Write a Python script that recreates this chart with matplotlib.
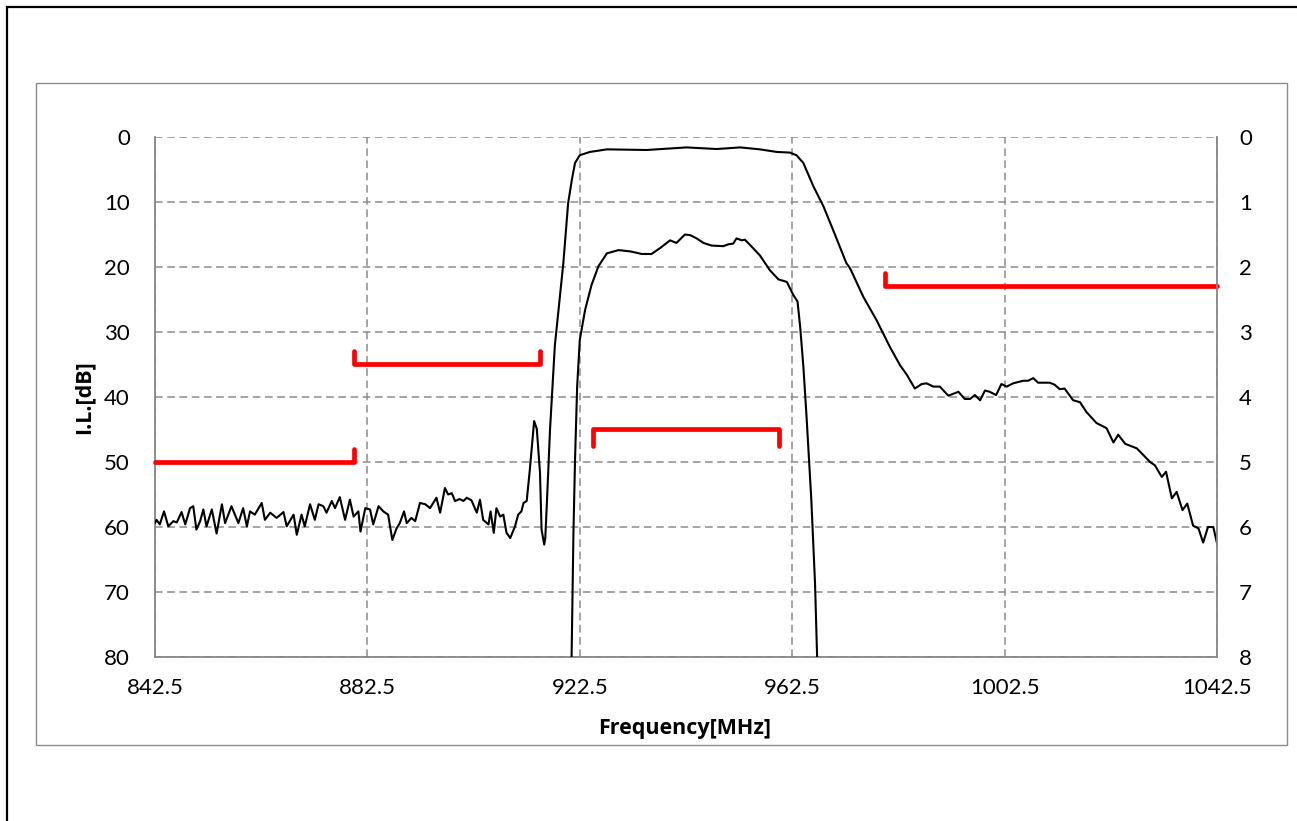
import numpy as np
import matplotlib
matplotlib.use("Agg")
import matplotlib.pyplot as plt
from matplotlib.patches import Rectangle

plt.rcParams["font.family"] = ["Lato", "DejaVu Sans"]

# Wideband response (left axis, dB)
freq_wide = [842.5, 842.8, 843.4, 844.2, 845.0, 845.95, 846.6, 847.5, 848.2, 849.1,
             849.7, 850.3, 851.0, 851.6, 852.2, 853.2, 854.1, 855.1, 855.7, 856.9,
             858.2, 859.1, 859.8, 860.4, 861.3, 862.6, 863.2, 864.2, 865.4, 866.7,
             867.3, 868.6, 869.2, 870.1, 870.7, 871.7, 872.6, 873.3, 874.2, 874.8,
             875.8, 876.4, 877.3, 878.3, 879.2, 879.9, 880.8, 881.2, 882.1, 883.0,
             883.6, 884.6, 885.5, 886.4, 887.2, 888.0, 888.6, 889.4, 889.9, 890.8,
             891.5, 892.4, 893.4, 894.3, 895.5, 896.2, 897.1, 897.7, 898.4, 899.0,
             899.9, 900.6, 901.2, 902.1, 903.1, 903.7, 904.3, 905.3, 905.7, 906.3,
             906.8, 907.5, 908.1, 908.7, 909.4, 910.3, 910.9, 911.5, 911.9, 912.5,
             913.1, 913.9, 914.4, 915.0, 915.3, 915.8, 916.0, 916.3, 916.9, 917.8,
             918.1, 919.4, 920.3, 921.0, 921.6, 922.5, 924.4, 927.6, 935.1, 942.6,
             948.3, 952.7, 956.4, 959.6, 962.1, 963.3, 964.6, 966.5, 968.4, 970.2,
             972.7, 973.4, 975.9, 978.4, 980.9, 982.8, 984.1, 985.6, 986.9, 987.8,
             989.1, 990.3, 991.9, 993.8, 995.0, 996.0, 996.9, 997.9, 998.8, 999.7,
             1000.9, 1001.9, 1002.9, 1004.1, 1006.0, 1006.9, 1007.9, 1008.8, 1011.0, 1011.9,
             1012.9, 1013.8, 1015.4, 1016.7, 1017.9, 1019.8, 1021.7, 1023.0, 1023.9, 1025.2,
             1027.4, 1028.6, 1029.9, 1030.8, 1032.1, 1032.9, 1034.0, 1034.9, 1036.0, 1036.9,
             1038.0, 1039.0, 1039.9, 1040.8, 1041.8, 1042.5]
il_wide = [59.4, 58.9, 59.6, 57.6, 59.9, 59.1, 59.3, 57.7, 59.6, 57.1,
           56.8, 60.4, 59.1, 57.3, 59.9, 57.3, 61.0, 56.5, 59.4, 56.8,
           59.4, 57.1, 59.9, 57.6, 58.1, 56.3, 58.9, 57.8, 58.6, 57.7,
           59.9, 58.1, 61.2, 58.1, 59.9, 56.5, 58.9, 56.5, 56.8, 57.8,
           56.0, 57.1, 55.4, 58.9, 55.8, 58.4, 57.6, 60.7, 57.1, 57.3,
           59.6, 56.8, 57.6, 58.1, 62.0, 60.2, 59.4, 57.6, 59.4, 58.6,
           59.1, 56.3, 56.5, 57.1, 55.5, 57.8, 54.0, 55.0, 54.8, 56.0,
           55.7, 56.0, 55.5, 55.9, 57.8, 55.8, 58.9, 59.6, 57.6, 60.9,
           57.1, 58.4, 58.1, 60.9, 61.7, 59.9, 58.1, 57.6, 56.3, 56.0,
           51.1, 43.7, 44.9, 51.6, 60.4, 62.7, 61.7, 56.3, 44.9, 32.1,
           29.7, 19.4, 10.2, 6.6, 4.0, 2.8, 2.3, 1.9, 2.0, 1.6,
           1.85, 1.6, 1.9, 2.3, 2.4, 2.8, 4.0, 7.6, 10.7, 14.3,
           19.4, 20.2, 24.6, 28.2, 32.3, 35.1, 36.6, 38.7, 38.0, 37.9,
           38.4, 38.4, 39.8, 39.2, 40.3, 40.3, 39.7, 40.5, 39.0, 39.2,
           39.7, 38.0, 38.4, 37.9, 37.5, 37.5, 37.1, 37.8, 37.8, 38.1,
           38.8, 38.7, 40.5, 40.8, 42.3, 44.0, 44.8, 47.0, 45.8, 47.2,
           47.9, 48.9, 50.0, 50.5, 52.3, 51.5, 55.6, 54.6, 57.4, 56.4,
           59.8, 60.2, 62.4, 60.0, 60.0, 62.5]

# Passband detail (right axis, dB)
freq_pass = [920.9, 921.3, 921.6, 922.0, 922.5, 923.5, 924.7, 926.0, 927.6, 929.8,
             932.0, 934.2, 936.0, 937.6, 939.5, 940.7, 942.3, 943.3, 944.5, 945.8,
             947.3, 949.5, 950.5, 951.4, 952.0, 953.0, 953.6, 954.9, 956.4, 958.3,
             959.9, 961.5, 962.1, 962.7, 963.5, 964.0, 964.6, 965.2, 966.1, 966.8,
             967.2, 967.3]
il_pass = [8.3, 6.1, 4.97, 3.84, 3.12, 2.66, 2.28, 1.99, 1.79, 1.74,
           1.76, 1.80, 1.80, 1.71, 1.59, 1.63, 1.50, 1.51, 1.56, 1.63,
           1.67, 1.68, 1.65, 1.64, 1.56, 1.59, 1.58, 1.69, 1.82, 2.05,
           2.19, 2.23, 2.33, 2.43, 2.53, 2.92, 3.53, 4.30, 5.58, 6.87,
           8.02, 8.3]

# Spec masks (left axis, dB)
mask1_f = [842.5, 880.0, 880.0]
mask1_db = [50, 50, 48]
mask2_f = [880.0, 880.0, 915.0, 915.0]
mask2_db = [33, 35, 35, 33]
mask3_f = [925.0, 925.0, 960.0, 960.0]
mask3_db = [47.5, 45, 45, 47.5]
mask4_f = [980.0, 980.0, 1042.5]
mask4_db = [21, 23, 23]

x_ticks = [842.5, 882.5, 922.5, 962.5, 1002.5, 1042.5]
left_ticks = [0, 10, 20, 30, 40, 50, 60, 70, 80]
right_ticks = [0, 1, 2, 3, 4, 5, 6, 7, 8]

W, H = 1297, 821
fig = plt.figure(figsize=(W / 100, H / 100), dpi=100)

# outer black frame (only left/top visible) and grey chart-area frame
fig.patches.append(Rectangle((6.5 / W, -0.05), 1.2, 1 - 7.5 / H + 0.05,
                             transform=fig.transFigure, fill=False,
                             edgecolor="black", lw=1.6, clip_on=False))
fig.patches.append(Rectangle((35.5 / W, 1 - 744.5 / H), (1287 - 35.5) / W,
                             (744.5 - 83) / H, transform=fig.transFigure,
                             fill=False, edgecolor="#8c8c8c", lw=1.0))

ax = fig.add_axes([155 / W, 1 - 657 / H, (1217 - 155) / W, (657 - 137) / H])
ax2 = ax.twinx()

grid_kw = dict(color="#8c8c8c", lw=1.1, ls=(0, (5, 3)))
ax.set_xlim(842.5, 1042.5)
ax.set_ylim(80, 0)
ax2.set_ylim(8, 0)
ax.set_xticks(x_ticks)
ax.set_xticklabels([f"{t:.1f}" for t in x_ticks])
ax.set_yticks(left_ticks)
ax2.set_yticks(right_ticks)
ax.grid(True, **grid_kw)

for s in ["top", "right"]:
    ax.spines[s].set_visible(False)
for s in ["left", "bottom"]:
    ax.spines[s].set_color("#868686")
    ax.spines[s].set_linewidth(1.3)
for s in ["top", "left", "bottom"]:
    ax2.spines[s].set_visible(False)
ax2.spines["right"].set_color("#868686")
ax2.spines["right"].set_linewidth(1.3)

ax.tick_params(axis="y", length=0, pad=18, labelsize=16)
ax.tick_params(axis="x", length=0, pad=15, labelsize=16)
ax2.tick_params(axis="y", length=0, pad=16, labelsize=16)

ax.plot(freq_wide, il_wide, color="black", lw=1.5, zorder=3)
ax2.plot(freq_pass, il_pass, color="black", lw=1.5, zorder=3)

for mf, md in [(mask1_f, mask1_db), (mask2_f, mask2_db),
               (mask3_f, mask3_db), (mask4_f, mask4_db)]:
    ax.plot(mf, md, color="#ff0000", lw=3.4, solid_capstyle="round",
            solid_joinstyle="round", zorder=4, clip_on=False)

label_font = ["Open Sans", "DejaVu Sans"]
fig.text(84 / W, 1 - 397 / H, "I.L.[dB]", rotation=90, ha="center", va="center",
         fontsize=15.5, fontweight="bold", family=label_font)
fig.text(685 / W, 1 - 728 / H, "Frequency[MHz]", ha="center", va="center",
         fontsize=15.5, fontweight="bold", family=label_font)

fig.savefig("out.png", dpi=100)
